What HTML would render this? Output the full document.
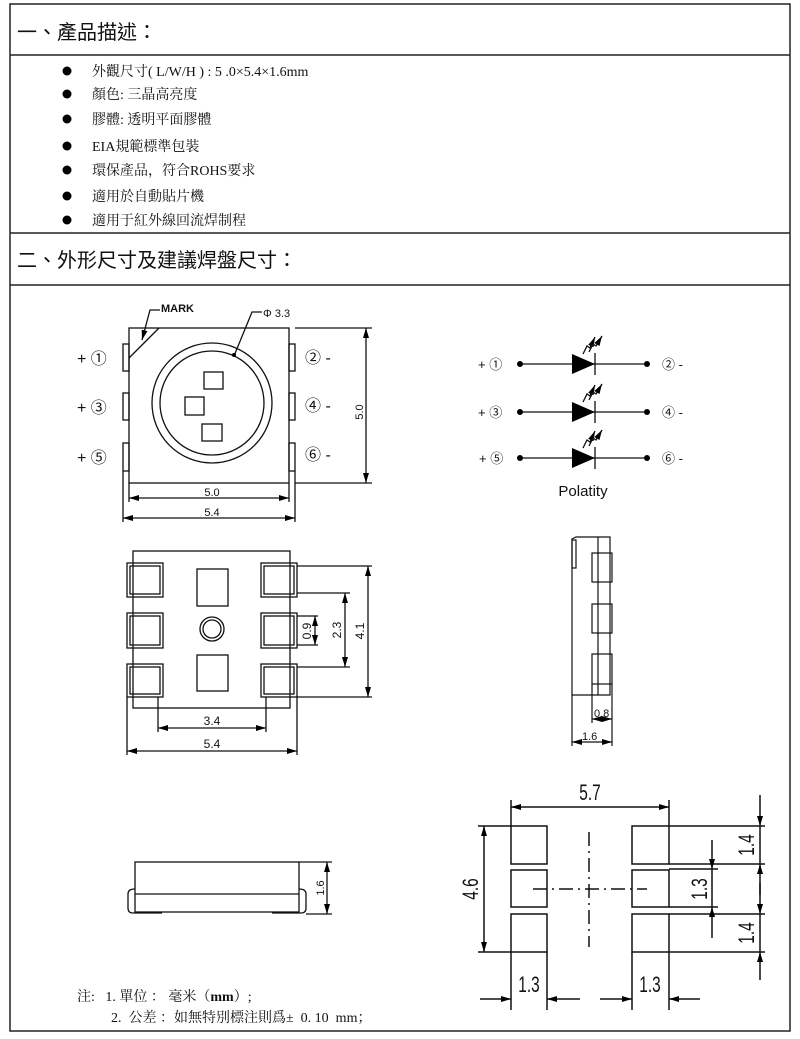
<!DOCTYPE html>
<html><head><meta charset="utf-8"><style>
html,body{margin:0;padding:0;background:#fff;width:800px;height:1039px;overflow:hidden}
svg{display:block}
.cj{font-family:"Liberation Serif","Noto Serif CJK SC","Noto Sans CJK TC",serif}
.sa{font-family:"Liberation Sans","Noto Sans CJK TC",sans-serif}
</style></head><body>
<svg width="800" height="1039" viewBox="0 0 800 1039" xmlns="http://www.w3.org/2000/svg">
<defs>
<marker id="a" viewBox="0 0 10 6" refX="10" refY="3" markerWidth="10" markerHeight="6" orient="auto-start-reverse" markerUnits="userSpaceOnUse"><path d="M0,0L10,3L0,6z" fill="#000"/></marker>
</defs>
<g fill="none" stroke="#222" stroke-width="1.5">
<rect x="10" y="4" width="780" height="1027"/>
<line x1="10" y1="55" x2="790" y2="55"/>
<line x1="10" y1="233" x2="790" y2="233"/>
<line x1="10" y1="285" x2="790" y2="285"/>
</g>
<g class="sa" font-size="20" fill="#111">
<text x="17" y="39">一、產品描述：</text>
<text x="17" y="267">二、外形尺寸及建議焊盤尺寸：</text>
</g>
<g fill="#000">
<circle cx="67" cy="71" r="4.5"/><circle cx="67" cy="94" r="4.5"/><circle cx="67" cy="119" r="4.5"/><circle cx="67" cy="146" r="4.5"/><circle cx="67" cy="170" r="4.5"/><circle cx="67" cy="196" r="4.5"/><circle cx="67" cy="220" r="4.5"/>
</g>
<g class="cj" font-size="14" fill="#111">
<text x="92" y="76">外觀尺寸( L/W/H ) : 5 .0×5.4×1.6mm</text>
<text x="92" y="99">顏色: 三晶高亮度</text>
<text x="92" y="124">膠體: 透明平面膠體</text>
<text x="92" y="151">EIA規範標準包裝</text>
<text x="92" y="175">環保產品，符合ROHS要求</text>
<text x="92" y="201">適用於自動貼片機</text>
<text x="92" y="225">適用于紅外線回流焊制程</text>
</g>

<!-- top view -->
<g fill="none" stroke="#111" stroke-width="1.3">
<rect x="129" y="328" width="160" height="155"/>
<rect x="123" y="344" width="6" height="27"/><rect x="123" y="393" width="6" height="27"/><rect x="123" y="443" width="6" height="28"/>
<rect x="289" y="344" width="6" height="27"/><rect x="289" y="393" width="6" height="27"/><rect x="289" y="443" width="6" height="28"/>
<circle cx="212" cy="403" r="60"/><circle cx="212" cy="403" r="52"/>
<rect x="204" y="372" width="19" height="17"/><rect x="185" y="397" width="19" height="18"/><rect x="202" y="424" width="20" height="17"/>
<line x1="129" y1="358" x2="159" y2="328"/>
<polyline points="160,310 150,310 142,340" marker-end="url(#a)"/>
<polyline points="262,312 252,312 234,356"/>
<line x1="295" y1="328" x2="372" y2="328"/><line x1="295" y1="483" x2="372" y2="483"/>
<line x1="366" y1="328" x2="366" y2="483" marker-start="url(#a)" marker-end="url(#a)"/>
<line x1="129" y1="483" x2="129" y2="502"/><line x1="289" y1="483" x2="289" y2="502"/>
<line x1="123" y1="471" x2="123" y2="522"/><line x1="295" y1="471" x2="295" y2="522"/>
<line x1="129" y1="498" x2="289" y2="498" marker-start="url(#a)" marker-end="url(#a)"/>
<line x1="123" y1="518" x2="295" y2="518" marker-start="url(#a)" marker-end="url(#a)"/>
</g>
<circle cx="234" cy="355" r="2" fill="#000"/>
<g class="sa" fill="#111">
<text x="161" y="312" font-size="11" font-weight="bold">MARK</text>
<text x="263" y="317" font-size="11">Φ 3.3</text>
<text x="77" y="364" font-size="16">+ ①</text>
<text x="77" y="413" font-size="16">+ ③</text>
<text x="77" y="463" font-size="16">+ ⑤</text>
<text x="305" y="363" font-size="16">②  -</text>
<text x="305" y="411" font-size="16">④  -</text>
<text x="305" y="460" font-size="16">⑥  -</text>
<text x="212" y="496" font-size="11" text-anchor="middle">5.0</text>
<text x="212" y="516" font-size="11" text-anchor="middle">5.4</text>
<text transform="translate(363,412) rotate(-90)" font-size="11" text-anchor="middle">5.0</text>
</g>

<!-- polarity -->
<g stroke="#111" stroke-width="1.3" fill="none">
<line x1="520" y1="364" x2="647" y2="364"/><line x1="520" y1="412" x2="647" y2="412"/><line x1="520" y1="458" x2="647" y2="458"/>
<line x1="595" y1="353" x2="595" y2="375"/><line x1="595" y1="401" x2="595" y2="423"/><line x1="595" y1="447" x2="595" y2="469"/>
<g id="ar"><polyline points="583,354 587,346 590,348 595,337" marker-end="url(#a)"/><polyline points="589,352 593,344 596,346 602,336" marker-end="url(#a)"/></g>
<use href="#ar" y="48"/><use href="#ar" y="94"/>
</g>
<g fill="#000">
<path d="M572,354L595,364L572,374z"/><path d="M572,402L595,412L572,422z"/><path d="M572,448L595,458L572,468z"/>
<circle cx="520" cy="364" r="3"/><circle cx="647" cy="364" r="3"/><circle cx="520" cy="412" r="3"/><circle cx="647" cy="412" r="3"/><circle cx="520" cy="458" r="3"/><circle cx="647" cy="458" r="3"/>
</g>
<g class="sa" fill="#111" font-size="13">
<text x="478" y="369">+ ①</text><text x="478" y="417">+ ③</text><text x="479" y="463">+ ⑤</text>
<text x="662" y="369">②  -</text><text x="662" y="417">④  -</text><text x="662" y="463">⑥  -</text>
<text x="583" y="496" font-size="15" text-anchor="middle">Polatity</text>
</g>

<!-- bottom view -->
<g fill="none" stroke="#111" stroke-width="1.3">
<rect x="133" y="551" width="157" height="157"/>
<rect x="127" y="563" width="36" height="34"/><rect x="130" y="566" width="30" height="28"/>
<rect x="127" y="613" width="36" height="35"/><rect x="130" y="616" width="30" height="29"/>
<rect x="127" y="664" width="36" height="33"/><rect x="130" y="667" width="30" height="27"/>
<rect x="261" y="563" width="36" height="34"/><rect x="264" y="566" width="30" height="28"/>
<rect x="261" y="613" width="36" height="35"/><rect x="264" y="616" width="30" height="29"/>
<rect x="261" y="664" width="36" height="33"/><rect x="264" y="667" width="30" height="27"/>
<rect x="197" y="569" width="31" height="37"/><rect x="197" y="655" width="31" height="36"/>
<circle cx="212" cy="629" r="12"/><circle cx="212" cy="629" r="9"/>
<line x1="297" y1="566" x2="372" y2="566"/><line x1="297" y1="697" x2="372" y2="697"/>
<line x1="297" y1="593" x2="350" y2="593"/><line x1="297" y1="667" x2="350" y2="667"/>
<line x1="297" y1="616" x2="318" y2="616"/><line x1="297" y1="645" x2="318" y2="645"/>
<line x1="368" y1="566" x2="368" y2="697" marker-start="url(#a)" marker-end="url(#a)"/>
<line x1="345" y1="593" x2="345" y2="667" marker-start="url(#a)" marker-end="url(#a)"/>
<line x1="315" y1="616" x2="315" y2="645" marker-start="url(#a)" marker-end="url(#a)"/>
<line x1="158" y1="697" x2="158" y2="732"/><line x1="266" y1="697" x2="266" y2="732"/>
<line x1="127" y1="697" x2="127" y2="755"/><line x1="297" y1="697" x2="297" y2="755"/>
<line x1="158" y1="728" x2="266" y2="728" marker-start="url(#a)" marker-end="url(#a)"/>
<line x1="127" y1="751" x2="297" y2="751" marker-start="url(#a)" marker-end="url(#a)"/>
</g>
<g class="sa" fill="#111" font-size="12" text-anchor="middle">
<text x="212" y="725">3.4</text><text x="212" y="748">5.4</text>
<text transform="translate(364,631) rotate(-90)">4.1</text>
<text transform="translate(341,630) rotate(-90)">2.3</text>
<text transform="translate(311,631) rotate(-90)">0.9</text>
</g>

<!-- side view -->
<g fill="none" stroke="#111" stroke-width="1.2">
<path d="M572,695 L572,539 L576,537 L610,537 L610,695 Z"/>
<rect x="572" y="540" width="4" height="28"/>
<line x1="598" y1="537" x2="598" y2="695"/>
<rect x="592" y="553" width="20" height="29"/><rect x="592" y="604" width="20" height="29"/><rect x="592" y="654" width="20" height="30"/>
<line x1="592" y1="684" x2="592" y2="723"/><line x1="612" y1="684" x2="612" y2="746"/><line x1="572" y1="695" x2="572" y2="746"/>
<line x1="592" y1="719" x2="612" y2="719" marker-start="url(#a)" marker-end="url(#a)"/>
<line x1="572" y1="742" x2="612" y2="742" marker-start="url(#a)" marker-end="url(#a)"/>
</g>
<g class="sa" fill="#111" font-size="11">
<text x="594" y="717">0.8</text><text x="582" y="740">1.6</text>
</g>

<!-- footprint -->
<g fill="none" stroke="#111" stroke-width="1.5">
<rect x="511" y="826" width="36" height="38"/><rect x="511" y="870" width="36" height="37"/><rect x="511" y="914" width="36" height="38"/>
<rect x="632" y="826" width="37" height="38"/><rect x="632" y="870" width="37" height="37"/><rect x="632" y="914" width="37" height="38"/>
<line x1="589" y1="832" x2="589" y2="947" stroke-dasharray="14,5,2,5"/>
<line x1="533" y1="889" x2="647" y2="889" stroke-dasharray="14,5,2,5"/>
<line x1="511" y1="800" x2="511" y2="826"/><line x1="669" y1="800" x2="669" y2="826"/>
<line x1="511" y1="807" x2="669" y2="807" marker-start="url(#a)" marker-end="url(#a)"/>
<line x1="478" y1="826" x2="511" y2="826"/><line x1="478" y1="952" x2="511" y2="952"/>
<line x1="484" y1="826" x2="484" y2="952" marker-start="url(#a)" marker-end="url(#a)"/>
<line x1="669" y1="826" x2="765" y2="826"/><line x1="669" y1="864" x2="765" y2="864"/>
<line x1="669" y1="914" x2="765" y2="914"/><line x1="669" y1="952" x2="765" y2="952"/>
<line x1="669" y1="869" x2="718" y2="869"/><line x1="669" y1="907" x2="718" y2="907"/>
<line x1="760" y1="795" x2="760" y2="826" marker-end="url(#a)"/>
<line x1="760" y1="826" x2="760" y2="864"/>
<line x1="760" y1="895" x2="760" y2="864" marker-end="url(#a)"/>
<line x1="760" y1="883" x2="760" y2="914" marker-end="url(#a)"/>
<line x1="760" y1="914" x2="760" y2="952"/>
<line x1="760" y1="980" x2="760" y2="952" marker-end="url(#a)"/>
<line x1="712" y1="840" x2="712" y2="869" marker-end="url(#a)"/>
<line x1="712" y1="869" x2="712" y2="907"/>
<line x1="712" y1="938" x2="712" y2="907" marker-end="url(#a)"/>
<line x1="511" y1="952" x2="511" y2="1010"/><line x1="547" y1="952" x2="547" y2="1010"/>
<line x1="632" y1="952" x2="632" y2="1010"/><line x1="669" y1="952" x2="669" y2="1010"/>
<line x1="480" y1="999" x2="511" y2="999" marker-end="url(#a)"/>
<line x1="580" y1="999" x2="547" y2="999" marker-end="url(#a)"/>
<line x1="600" y1="999" x2="632" y2="999" marker-end="url(#a)"/>
<line x1="700" y1="999" x2="669" y2="999" marker-end="url(#a)"/>
</g>
<g class="sa" fill="#111" font-size="22" text-anchor="middle">
<text transform="translate(590,800) scale(0.7,1)">5.7</text>
<text transform="translate(529,992) scale(0.7,1)">1.3</text>
<text transform="translate(650,992) scale(0.7,1)">1.3</text>
<text transform="translate(478,889) rotate(-90) scale(0.7,1)">4.6</text>
<text transform="translate(754,845) rotate(-90) scale(0.7,1)">1.4</text>
<text transform="translate(707,889) rotate(-90) scale(0.7,1)">1.3</text>
<text transform="translate(754,933) rotate(-90) scale(0.7,1)">1.4</text>
</g>

<!-- side profile -->
<g fill="none" stroke="#111" stroke-width="1.3">
<rect x="135" y="862" width="164" height="50"/>
<line x1="135" y1="894" x2="299" y2="894"/>
<path d="M162,913 L133,913 Q128,913 128,908 L128,894 Q128,889 135,889"/>
<path d="M272,913 L301,913 Q306,913 306,908 L306,894 Q306,889 299,889"/>
<line x1="299" y1="862" x2="332" y2="862"/><line x1="306" y1="914" x2="332" y2="914"/>
<line x1="327" y1="862" x2="327" y2="914" marker-start="url(#a)" marker-end="url(#a)"/>
</g>
<text class="sa" transform="translate(324,888) rotate(-90)" font-size="11" text-anchor="middle" fill="#111">1.6</text>

<g class="cj" fill="#111" font-size="14">
<text x="77" y="1001">注:&#160;&#160;&#160;1. 單位 ： 毫米（<tspan font-weight="bold">mm</tspan>）;</text>
<text x="111" y="1022">2.&#160;&#160;公差 ：如無特別標注則爲±&#160;&#160;0. 10&#160;&#160;mm；</text>
</g>
</svg>
</body></html>
